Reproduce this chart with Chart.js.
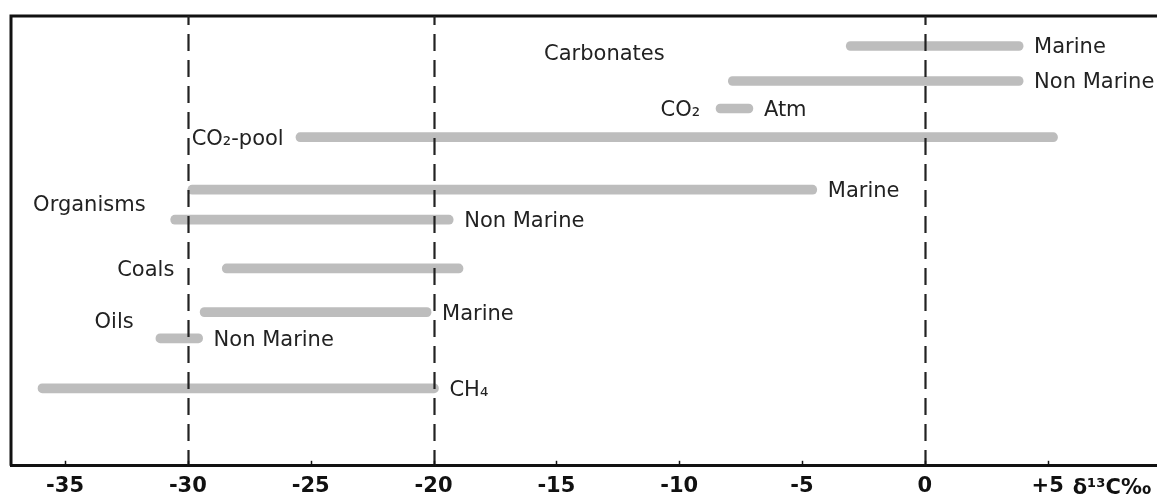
<!DOCTYPE html>
<html>
<head>
<meta charset="utf-8">
<script src="https://cdn.jsdelivr.net/npm/chart.js@4.4.1/dist/chart.umd.min.js"></script>
<style>
  html, body { margin: 0; padding: 0; background: #fff; }
  #wrap { width: 1157px; height: 496px; }
</style>
</head>
<body>
<div id="wrap"><canvas id="d13c"></canvas></div>
<script>
// delta 13C ranges (per mil), one row each, top to bottom
var rangeLow  = [-3.2, -8.0, -8.5, -25.6, -30.0, -30.7, -28.6, -29.5, -31.3, -36.1];
var rangeHigh = [ 4.0,  4.0, -7.0,   5.4,  -4.4, -19.2, -18.8, -20.1, -29.4, -19.8];
var rowLevel  = [ 1.2,  2.6,  3.7,  4.85,  6.95,  8.15,  10.1,  11.85, 12.9,  14.9];

// text written after the bar end / before the bar start
var afterText  = ['Marine', 'Non Marine', 'Atm', '', 'Marine', 'Non Marine', '', 'Marine', 'Non Marine', 'CH\u2084'];
var beforeText = ['', '', 'CO\u2082', 'CO\u2082-pool', '', '', 'Coals', '', '', ''];
var beforeEnd  = [null, null, -9.15, -26.1, null, null, -30.55, null, null, null];

// group names
var groupNames = ['Carbonates', 'Organisms', 'Oils'];
var groupX     = [-15.5, -36.3, -33.8];
var groupY     = [1.45, 7.5, 12.2];

var xTicks   = [-35, -30, -25, -20, -15, -10, -5, 0, 5];
var refLines = [-30, -20, 0];
var unitText = '\u03B4\u00B9\u00B3C\u2030';

var textColor = '#222';
var labelFont = '21px "DejaVu Sans"';

var annotate = {
	id: 'annotate',
	afterDatasetsDraw: function(chart) {
		var c = chart.ctx, a = chart.chartArea;
		var xs = chart.scales.x, ys = chart.scales.y;
		c.save();

		// frame: left and top lines
		c.strokeStyle = '#111';
		c.lineWidth = 3;
		c.beginPath();
		c.moveTo(a.left, a.bottom);
		c.lineTo(a.left, a.top);
		c.lineTo(a.right, a.top);
		c.stroke();

		// dashed reference lines
		c.lineWidth = 2.2;
		c.strokeStyle = '#222';
		c.setLineDash([17, 9]);
		c.lineDashOffset = 8;
		refLines.forEach(function(v) {
			var px = Math.round(xs.getPixelForValue(v)) + 0.5;
			c.beginPath();
			c.moveTo(px, a.top);
			c.lineTo(px, a.bottom);
			c.stroke();
		});
		c.setLineDash([]);

		// small inner tick marks
		c.lineWidth = 1.5;
		c.strokeStyle = '#111';
		xTicks.forEach(function(v) {
			var px = Math.round(xs.getPixelForValue(v)) + 0.5;
			c.beginPath();
			c.moveTo(px, a.bottom);
			c.lineTo(px, a.bottom - 5);
			c.stroke();
		});

		// labels
		c.fillStyle = textColor;
		c.font = labelFont;
		c.textBaseline = 'alphabetic';
		for (var i = 0; i < rowLevel.length; i++) {
			var py = ys.getPixelForValue(rowLevel[i]) + 7.5;
			if (afterText[i]) {
				c.textAlign = 'left';
				c.fillText(afterText[i], xs.getPixelForValue(rangeHigh[i]) + 11, py);
			}
			if (beforeText[i]) {
				c.textAlign = 'right';
				c.fillText(beforeText[i], xs.getPixelForValue(beforeEnd[i]), py);
			}
		}
		c.textAlign = 'left';
		for (var g = 0; g < groupNames.length; g++) {
			c.fillText(groupNames[g], xs.getPixelForValue(groupX[g]), ys.getPixelForValue(groupY[g]) + 7.5);
		}

		// unit next to the last tick
		c.font = 'bold 21px "DejaVu Sans"';
		c.fillStyle = '#111';
		c.fillText(unitText, xs.getPixelForValue(5) + 25, a.bottom + 28);

		c.restore();
	}
};

var ctx = document.getElementById('d13c').getContext('2d');
var chart = new Chart(ctx, {
	type: 'bar',
	data: {
		datasets: [{
			data: rangeLow.map(function(lo, i) { return { x: [lo, rangeHigh[i]], y: rowLevel[i] }; }),
			backgroundColor: '#bdbdbd',
			borderWidth: 0,
			borderSkipped: false,
			borderRadius: 5,
			barThickness: 9
		}]
	},
	options: {
		indexAxis: 'y',
		responsive: true,
		maintainAspectRatio: false,
		animation: false,
		layout: { padding: { left: 11, top: 16, right: 0, bottom: -11 } },
		plugins: {
			legend: { display: false },
			tooltip: { enabled: false }
		},
		scales: {
			x: {
				type: 'linear',
				min: -37.2,
				max: 9.45,
				afterBuildTicks: function(axis) {
					axis.ticks = xTicks.map(function(v) { return { value: v }; });
				},
				grid: { display: false, drawTicks: false },
				border: { display: true, width: 3, color: '#111' },
				ticks: {
					padding: 8,
					color: '#111',
					font: { family: 'DejaVu Sans', size: 21, weight: 'bold' },
					callback: function(v) { return v > 0 ? '+' + v : String(v); }
				}
			},
			y: {
				type: 'linear',
				reverse: true,
				offset: false,
				min: 0,
				max: 18,
				display: false
			}
		}
	},
	plugins: [annotate]
});
</script>
</body>
</html>
